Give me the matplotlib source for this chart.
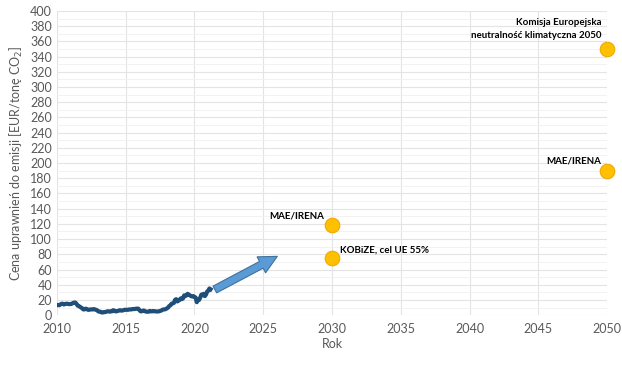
import numpy as np
import matplotlib
matplotlib.use("Agg")
import matplotlib.pyplot as plt

plt.rcParams['font.family'] = ['Lato', 'DejaVu Sans']

# Monthly EUA price, Jan 2010 .. Mar 2021
price = [
    13, 13.5, 13, 14, 15, 15, 14, 14.5, 15, 15, 14.5, 14.5,
    14.5, 15, 16, 16.5, 16.5, 15, 12.5, 12, 11, 10, 9, 7.5,
    7.5, 8.5, 8, 7, 7, 7.5, 7.5, 7.5, 8, 7.5, 7, 6.5,
    5, 4.5, 4.5, 3.5, 3.5, 4, 4, 4.5, 5, 5, 4.5, 5,
    5, 6.5, 6, 5, 5, 5.5, 6, 6.5, 6, 6, 6.5, 7,
    7, 7, 7, 7.5, 7.5, 7.5, 8, 8, 8, 8.5, 8.5, 8.5,
    6.5, 5, 5, 6, 6, 5, 4.5, 4.5, 4.5, 5.5, 5, 5,
    5.5, 5, 5, 4.8, 4.8, 5, 5.5, 6, 7, 7.5, 7.5, 8,
    9, 10, 12, 13, 15, 15.5, 16, 20, 21, 18, 19, 20,
    22, 21, 22, 26, 25, 26, 28, 27, 26, 25, 24.5, 25,
    24, 23, 17, 20, 20, 23, 27, 27, 28, 25, 27, 31,
    32, 35, 34,
]
price_start = 2010.0

point_years = [2030, 2030, 2050, 2050]
point_values = [118, 75, 350, 190]
point_labels = ["MAE/IRENA", "KOBiZE, cel UE 55%",
                "Komisja Europejska\nneutralność klimatyczna 2050", "MAE/IRENA"]

arrow_start = (2021.3, 32)
arrow_end = (2026.2, 79)

years = price_start + np.arange(len(price)) / 12.0

fig = plt.figure(figsize=(6.22, 3.66), dpi=100)
ax = fig.add_axes([0.0916, 0.139, 0.8844, 0.831])

ax.set_xlim(2010, 2050)
ax.set_ylim(0, 400)
ax.set_xticks(range(2010, 2051, 5))
ax.set_yticks(range(0, 401, 20))
ax.set_yticks(range(10, 400, 20), minor=True)
ax.grid(True, which='major', axis='both', color='#E4E4E4', lw=0.8)
ax.grid(True, which='minor', axis='y', color='#F0F0F0', lw=0.6)
ax.set_axisbelow(True)
for s in ax.spines.values():
    s.set_visible(False)
ax.tick_params(axis='both', which='both', length=0, colors='#595959', labelsize=9)
ax.tick_params(axis='x', pad=6)

ax.plot(years, price, color='#1F4E79', lw=3.0, solid_joinstyle='round')

ax.annotate("", xy=arrow_end, xytext=arrow_start,
            arrowprops=dict(arrowstyle="simple,head_width=1.3,head_length=1.3,tail_width=0.55",
                            fc='#5B9BD5', ec='#41719C', lw=0.8, mutation_scale=10))

ax.scatter(point_years, point_values, s=110, color='#FFC000', edgecolor='#F0A800',
           lw=0.8, zorder=5, clip_on=False)

fs = 7
ax.text(2029.4, 124, point_labels[0], ha='right', va='bottom', fontsize=fs, fontweight='bold')
ax.text(2030.6, 80, point_labels[1], ha='left', va='bottom', fontsize=fs, fontweight='bold')
ax.text(2049.6, 362, point_labels[2], ha='right', va='bottom', fontsize=fs, fontweight='bold',
        linespacing=1.5, multialignment='right')
ax.text(2049.6, 197, point_labels[3], ha='right', va='bottom', fontsize=fs, fontweight='bold')

ax.set_xlabel("Rok", fontsize=9, color='#595959', labelpad=2)
ax.set_ylabel("Cena uprawnień do emisji [EUR/tonę CO$_2$]", fontsize=9, color='#595959', labelpad=4)

fig.savefig("out.png", dpi=100)
